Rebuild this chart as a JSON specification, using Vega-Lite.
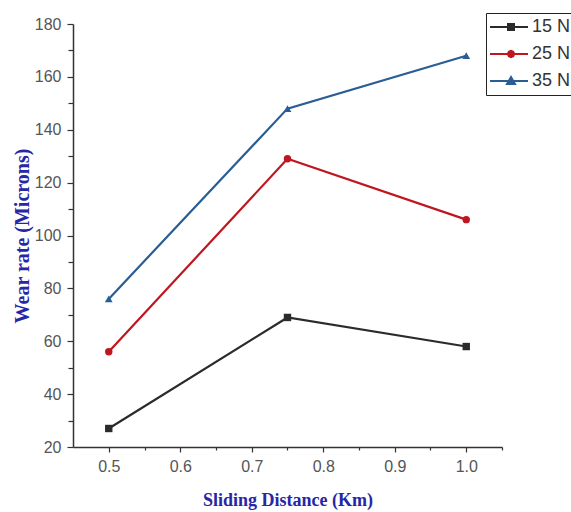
{
  "$schema": "https://vega.github.io/schema/vega-lite/v6.json",
  "width": 429,
  "height": 423,
  "autosize": "none",
  "padding": {"left": 73, "top": 24, "right": 69, "bottom": 65},
  "background": "white",
  "data": {
    "values": [
      {"d": 0.5, "w": 27, "s": "15 N"},
      {"d": 0.75, "w": 69, "s": "15 N"},
      {"d": 1.0, "w": 58, "s": "15 N"},
      {"d": 0.5, "w": 56, "s": "25 N"},
      {"d": 0.75, "w": 129, "s": "25 N"},
      {"d": 1.0, "w": 106, "s": "25 N"},
      {"d": 0.5, "w": 76, "s": "35 N"},
      {"d": 0.75, "w": 148, "s": "35 N"},
      {"d": 1.0, "w": 168, "s": "35 N"}
    ]
  },
  "config": {
    "view": {"stroke": null},
    "axis": {
      "grid": false,
      "domainColor": "#333333",
      "domainWidth": 1.5,
      "tickColor": "#333333",
      "tickWidth": 1.2,
      "labelFont": "Liberation Sans Narrow, Arial Narrow, Liberation Sans, sans-serif",
      "labelFontSize": 16,
      "labelColor": "#555555",
      "titleFont": "Liberation Serif, Times New Roman, serif",
      "titleFontWeight": "bold",
      "titleColor": "#2626a6"
    }
  },
  "resolve": {"axis": {"x": "independent", "y": "independent"}},
  "layer": [
    {
      "mark": {"type": "line", "strokeWidth": 2.2},
      "encoding": {
        "x": {
          "field": "d", "type": "quantitative",
          "scale": {"domain": [0.45, 1.05], "nice": false, "zero": false},
          "axis": {
            "orient": "bottom",
            "values": [0.5, 0.6, 0.7, 0.8, 0.9, 1.0],
            "format": ".1f",
            "tickSize": 5,
            "labelPadding": 6,
            "title": "Sliding Distance (Km)",
            "titleFontSize": 18,
            "titlePadding": 17
          }
        },
        "y": {
          "field": "w", "type": "quantitative",
          "scale": {"domain": [20, 180], "nice": false, "zero": false},
          "axis": {
            "orient": "left",
            "values": [20, 40, 60, 80, 100, 120, 140, 160, 180],
            "tickSize": 6,
            "labelPadding": 6,
            "title": "Wear rate (Microns)",
            "titleFontSize": 20,
            "titlePadding": 2
          }
        },
        "color": {
          "field": "s", "type": "nominal",
          "scale": {"domain": ["15 N", "25 N", "35 N"], "range": ["#2b2b2b", "#c0161f", "#2a5d94"]},
          "legend": {
            "title": null,
            "orient": "none",
            "legendX": 413,
            "legendY": -11,
            "padding": 4,
            "strokeColor": "#222222",
            "fillColor": "white",
            "symbolSize": 1600,
            "symbolStrokeWidth": 2,
            "clipHeight": 20,
            "rowPadding": 7,
            "labelOffset": 0,
            "labelFont": "Liberation Sans Narrow, Arial Narrow, Liberation Sans, sans-serif",
            "labelFontSize": 18,
            "labelColor": "#333333",
            "encode": {
              "symbols": {
                "update": {
                  "shape": {"signal": "datum.value === '15 N' ? 'M-1.15,0L0.85,0M-0.15,-0.15L0.15,-0.15L0.15,0.15L-0.15,0.15Z' : datum.value === '25 N' ? 'M-1.15,0L0.85,0M0.16,0L0.11,0.11L0,0.16L-0.11,0.11L-0.16,0L-0.11,-0.11L0,-0.16L0.11,-0.11Z' : 'M-1.15,0L0.85,0M0,-0.2L0.2,0.15L-0.2,0.15Z'"},
                  "size": {"value": 1600},
                  "fill": {"signal": "scale('color', datum.value)"},
                  "stroke": {"signal": "scale('color', datum.value)"},
                  "strokeWidth": {"value": 2}
                }
              }
            }
          }
        }
      }
    },
    {
      "transform": [{"filter": "datum.s === '15 N'"}],
      "mark": {"type": "point", "filled": true, "opacity": 1, "size": 55, "shape": "square"},
      "encoding": {
        "x": {
          "field": "d", "type": "quantitative",
          "axis": {
            "orient": "bottom",
            "values": [0.55, 0.65, 0.75, 0.85, 0.95, 1.05],
            "labels": false,
            "domain": false,
            "tickSize": 3,
            "title": null
          }
        },
        "y": {
          "field": "w", "type": "quantitative",
          "axis": {
            "orient": "left",
            "values": [30, 50, 70, 90, 110, 130, 150, 170],
            "labels": false,
            "domain": false,
            "tickSize": 5,
            "title": null
          }
        },
        "color": {"field": "s", "type": "nominal", "legend": null}
      }
    },
    {
      "transform": [{"filter": "datum.s === '25 N'"}],
      "mark": {"type": "point", "filled": true, "opacity": 1, "size": 55, "shape": "circle"},
      "encoding": {
        "x": {"field": "d", "type": "quantitative", "axis": null},
        "y": {"field": "w", "type": "quantitative", "axis": null},
        "color": {"field": "s", "type": "nominal", "legend": null}
      }
    },
    {
      "transform": [{"filter": "datum.s === '35 N'"}],
      "mark": {"type": "point", "filled": true, "opacity": 1, "size": 60, "shape": "triangle-up"},
      "encoding": {
        "x": {"field": "d", "type": "quantitative", "axis": null},
        "y": {"field": "w", "type": "quantitative", "axis": null},
        "color": {"field": "s", "type": "nominal", "legend": null}
      }
    }
  ]
}
